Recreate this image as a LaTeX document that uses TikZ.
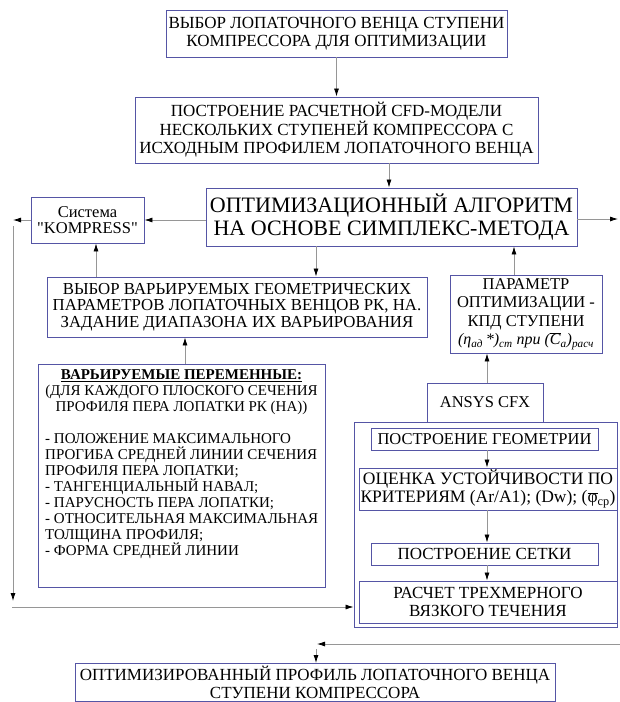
\documentclass[tikz,border=0pt]{standalone}
\usepackage{fontspec}
\setmainfont{Liberation Serif}
\newfontfamily\quotefont{Liberation Serif}[Ligatures=ResetAll]
\usetikzlibrary{arrows.meta}
\definecolor{boxc}{RGB}{85,85,165}
\definecolor{linec}{RGB}{150,150,150}
\tikzset{
  box/.style={draw=boxc, line width=0.9pt, inner sep=0pt, align=center, font=\fontsize{17}{18}\selectfont},
  arr/.style={draw=linec, line width=0.8pt, -{Latex[length=8pt,width=5pt,color=black]}},
  txt/.style={inner sep=0pt, font=\fontsize{15}{16}\selectfont}
}
\begin{document}
\begin{tikzpicture}[x=1pt,y=-1pt]
\useasboundingbox (0,0) rectangle (620,702);
\clip (0,0) rectangle (620,702);
\fill[white] (0,0) rectangle (620,702);

% top chain
\node[box, minimum width=341pt, minimum height=47pt] (b1) at (336.5,33.5)
  {ВЫБОР ЛОПАТОЧНОГО ВЕНЦА СТУПЕНИ\\КОМПРЕССОРА ДЛЯ ОПТИМИЗАЦИИ};
\node[box, minimum width=403pt, minimum height=66pt] (b2) at (336.5,130)
  {ПОСТРОЕНИЕ РАСЧЕТНОЙ CFD-МОДЕЛИ\\НЕСКОЛЬКИХ СТУПЕНЕЙ КОМПРЕССОРА С\\ИСХОДНЫМ ПРОФИЛЕМ ЛОПАТОЧНОГО ВЕНЦА};
\node[box, minimum width=371pt, minimum height=58pt, font=\fontsize{22}{23}\selectfont] (algo) at (391.5,217)
  {ОПТИМИЗАЦИОННЫЙ АЛГОРИТМ\\НА ОСНОВЕ СИМПЛЕКС-МЕТОДА};
\node[box, minimum width=113pt, minimum height=46pt, font=\fontsize{16.5}{16.5}\selectfont] (komp) at (87.5,220)
  {Система\\{\quotefont "KOMPRESS"}};
\node[box, minimum width=380pt, minimum height=60pt, font=\fontsize{16.8}{16.5}\selectfont] (vybor) at (237,307)
  {ВЫБОР ВАРЬИРУЕМЫХ ГЕОМЕТРИЧЕСКИХ\\ПАРАМЕТРОВ ЛОПАТОЧНЫХ ВЕНЦОВ РК, НА.\\ЗАДАНИЕ ДИАПАЗОНА ИХ ВАРЬИРОВАНИЯ};
\node[box, minimum width=152pt, minimum height=78pt, font=\fontsize{16.5}{18.5}\selectfont] (param) at (526,314)
  {ПАРАМЕТР\\ОПТИМИЗАЦИИ -\\КПД СТУПЕНИ\\{\itshape\fontsize{16}{18}\selectfont (η\textsubscript{ад}\,*)\textsubscript{ст} при (\(\overline{\mbox{\itshape C}}\)\textsubscript{a})\textsubscript{расч}}};

% variables box
\node[box, minimum width=287pt, minimum height=223pt] (vars) at (181.5,475.5) {};
\node[txt, anchor=north, align=center] (varshead) at (181.5,369)
  {\textbf{\underline{ВАРЬИРУЕМЫЕ ПЕРЕМЕННЫЕ:}}\\(ДЛЯ КАЖДОГО ПЛОСКОГО СЕЧЕНИЯ\\ПРОФИЛЯ ПЕРА ЛОПАТКИ РК (НА))};
\node[txt, anchor=north west, align=left] (varslist) at (45,433)
  {- ПОЛОЖЕНИЕ МАКСИМАЛЬНОГО\\ПРОГИБА СРЕДНЕЙ ЛИНИИ СЕЧЕНИЯ\\ПРОФИЛЯ ПЕРА ЛОПАТКИ;\\- ТАНГЕНЦИАЛЬНЫЙ НАВАЛ;\\- ПАРУСНОСТЬ ПЕРА ЛОПАТКИ;\\- ОТНОСИТЕЛЬНАЯ МАКСИМАЛЬНАЯ\\ТОЛЩИНА ПРОФИЛЯ;\\- ФОРМА СРЕДНЕЙ ЛИНИИ};

% ANSYS block
\node[box, minimum width=116pt, minimum height=39pt, font=\fontsize{16.5}{18}\selectfont] (ansys) at (485,402.5) {ANSYS CFX};
\node[box, minimum width=263pt, minimum height=205pt] (outer) at (485.5,524.5) {};
\node[box, minimum width=227pt, minimum height=22pt, font=\fontsize{16.5}{18}\selectfont] (geom) at (484.5,439) {ПОСТРОЕНИЕ ГЕОМЕТРИИ};
\node[box, minimum width=258pt, minimum height=42pt, font=\fontsize{17.5}{18}\selectfont] (ocen) at (488,489)
  {ОЦЕНКА УСТОЙЧИВОСТИ ПО\\КРИТЕРИЯМ (Ar/A1); (Dw); (\(\overline{\mbox{φ}}\)\textsubscript{ср})};
\node[box, minimum width=227pt, minimum height=22pt, font=\fontsize{17}{18}\selectfont] (setka) at (484.5,554) {ПОСТРОЕНИЕ СЕТКИ};
\node[box, minimum width=258pt, minimum height=42pt, font=\fontsize{17}{18}\selectfont] (rasch) at (488,602)
  {РАСЧЕТ ТРЕХМЕРНОГО\\ВЯЗКОГО ТЕЧЕНИЯ};

% final
\node[box, anchor=north, minimum width=480pt, inner ysep=3pt, font=\fontsize{17}{17.5}\selectfont] (final) at (315,663)
  {ОПТИМИЗИРОВАННЫЙ ПРОФИЛЬ ЛОПАТОЧНОГО ВЕНЦА\\СТУПЕНИ КОМПРЕССОРА};

% helper coordinates
\coordinate (xa) at (389,0);
\coordinate (xv) at (316,0);
\coordinate (xk) at (96,0);
\coordinate (xp) at (185,0);
\coordinate (xq) at (514,0);
\coordinate (xs) at (487,0);
\coordinate (L1) at (13,220);
\coordinate (L2) at (13,226);
\coordinate (L3) at (13,601);
\coordinate (L4) at (12,607);
\coordinate (R1) at (618,219);
\coordinate (B1) at (621,644);
\coordinate (B2) at (317,644);
\coordinate (B3) at (316,649);

% connectors
\draw[arr] (b1.south) -- (b2.north);
\draw[arr] (b2.south -| xa) -- (algo.north -| xa);
\draw[arr] (algo.west |- komp.east) -- (komp.east);
\draw[arr] (komp.west) -- (L1);
\draw[arr] (L2) -- (L3);
\draw[arr] (L4) -- (L4 -| outer.west);
\draw[arr] (algo.east |- R1) -- (R1);
\draw[arr] (algo.south -| xv) -- (vybor.north -| xv);
\draw[arr] (vybor.north -| xk) -- (komp.south -| xk);
\draw[arr] (vars.north -| xp) -- (vybor.south -| xp);
\draw[arr] (param.north -| xq) -- (algo.south -| xq);
\draw[arr] (ansys.north -| xs) -- (param.south -| xs);
\draw[arr] (geom.south -| xs) -- (ocen.north -| xs);
\draw[arr] (ocen.south -| xs) -- (setka.north -| xs);
\draw[arr] (setka.south -| xs) -- (rasch.north -| xs);
\draw[arr] (B1) -- (B2);
\draw[arr] (B3) -- (B3 |- final.north);
\end{tikzpicture}
\end{document}
